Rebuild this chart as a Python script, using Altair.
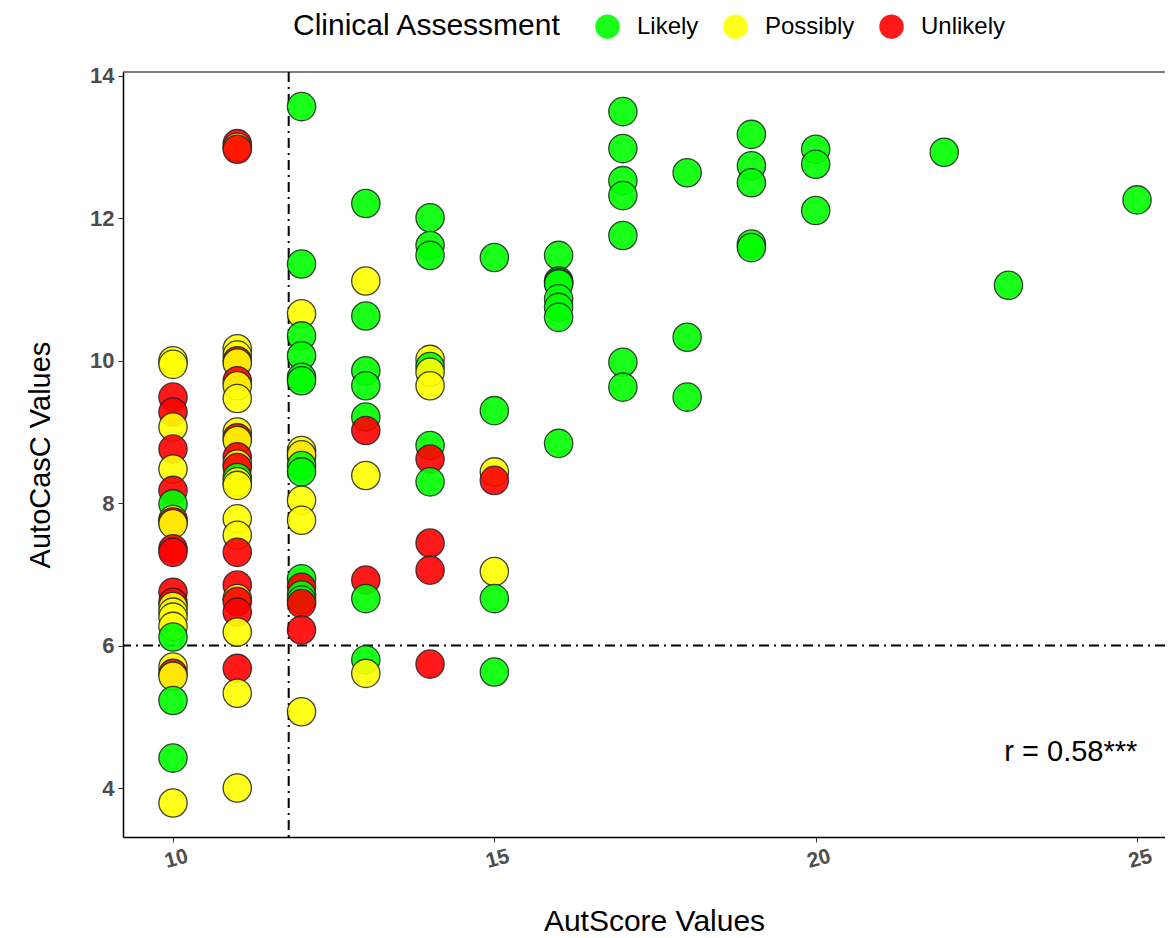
import altair as alt
import pandas as pd

# ---- data ----
x10 = [10.0, 9.95, 9.49, 9.28, 9.07, 8.76, 8.48, 8.18, 7.99, 7.77, 7.74, 7.71, 7.36, 7.31,
       6.75, 6.61, 6.55, 6.47, 6.40, 6.27, 6.12, 5.70, 5.61, 5.57, 5.23, 4.42, 3.79]
c10 = ["P", "P", "U", "U", "P", "U", "P", "U", "L", "P", "U", "P", "U", "U",
       "U", "U", "P", "P", "P", "P", "L", "P", "U", "P", "L", "L", "P"]

x11 = [13.05, 13.0, 12.97, 10.17, 10.08, 10.0, 9.97, 9.72, 9.65, 9.47, 9.0, 8.92, 8.88,
       8.65, 8.55, 8.50, 8.36, 8.30, 8.25, 7.78, 7.55, 7.31, 6.85, 6.66, 6.62, 6.47,
       6.19, 5.68, 5.33, 4.0]
c11 = ["U", "P", "U", "P", "P", "U", "P", "U", "P", "P", "P", "U", "P",
       "U", "P", "U", "L", "P", "P", "P", "P", "U", "U", "P", "U", "U",
       "P", "U", "P", "P"]

x12 = [13.57, 11.36, 10.66, 10.35, 10.07, 9.77, 9.72, 8.74, 8.66, 8.68, 8.53, 8.44, 8.04,
       7.76, 6.94, 6.82, 6.71, 6.64, 6.59, 6.22, 5.07]
c12 = ["L", "L", "P", "L", "L", "L", "L", "P", "U", "P", "L", "L", "P",
       "P", "L", "U", "L", "L", "U", "U", "P"]

x13 = [12.21, 11.12, 10.63, 9.86, 9.65, 9.21, 9.02, 8.39, 6.92, 6.66, 5.80, 5.61]
c13 = ["L", "P", "L", "L", "L", "L", "U", "P", "U", "L", "L", "P"]

x14 = [12.01, 11.62, 11.48, 10.02, 9.92, 9.84, 9.65, 8.81, 8.62, 8.30, 7.44, 7.06, 5.74]
c14 = ["L", "L", "L", "P", "L", "P", "P", "L", "U", "L", "U", "U", "U"]

x15 = [11.45, 9.30, 8.44, 8.32, 7.04, 6.66, 5.63]
c15 = ["L", "L", "P", "U", "P", "L", "L"]

x16 = [11.48, 11.12, 11.10, 11.08, 10.87, 10.75, 10.61, 8.84]
x17 = [13.50, 12.98, 12.53, 12.32, 11.76, 9.98, 9.63]
x18 = [12.64, 10.33, 9.49]
x19 = [13.18, 12.74, 12.50, 11.64, 11.59]
x20 = [12.97, 12.76, 12.11]
x22 = [12.93]
x23 = [11.06]
x25 = [12.26]

labels = {"L": "Likely", "P": "Possibly", "U": "Unlikely"}
categories = ["Likely", "Possibly", "Unlikely"]
colors = ["#00FF00", "#FFFF00", "#FF0000"]

x_ticks = [10, 15, 20, 25]
y_ticks = [4, 6, 8, 10, 12, 14]
vline_x = [11.8]
hline_y = [6]
ann_x = [23.97]
ann_y = [4.51]
ann_text = ["r = 0.58***"]

rows = []
for xv, ys, cs in [(10, x10, c10), (11, x11, c11), (12, x12, c12), (13, x13, c13),
                   (14, x14, c14), (15, x15, c15)]:
    for yv, cv in zip(ys, cs):
        rows.append({"aut": xv, "casc": yv, "cat": labels[cv]})
for xv, ys in [(16, x16), (17, x17), (18, x18), (19, x19), (20, x20),
               (22, x22), (23, x23), (25, x25)]:
    for yv in ys:
        rows.append({"aut": xv, "casc": yv, "cat": "Likely"})
df = pd.DataFrame(rows)

W, H = 1042, 765
XD = [9.222, 25.435]
YD = [3.312, 14.056]
FONT = "Liberation Sans"

xscale = alt.Scale(domain=XD, nice=False, zero=False)
yscale = alt.Scale(domain=YD, nice=False, zero=False)

points = alt.Chart(df).mark_point(
    shape="circle", filled=True, size=800, fillOpacity=0.9,
    stroke="#222222", strokeWidth=1.3, strokeOpacity=0.85
).encode(
    x=alt.X("aut:Q", scale=xscale, axis=alt.Axis(
        title="AutScore Values", values=x_ticks, format="d", grid=False,
        labelAngle=-15, labelAlign="center", labelBaseline="top",
        labelPadding=6, labelFontSize=21, labelFontWeight="bold",
        labelColor="#4D4D4D", tickColor="#333333", tickSize=5,
        domainColor="#000000", domainWidth=1.5,
        titleFontSize=30, titleFontWeight="normal", titleColor="#000000",
        titleX=531, titleAlign="center", titleY=84, titleBaseline="middle")),
    y=alt.Y("casc:Q", scale=yscale, axis=alt.Axis(
        title="AutoCasC Values", values=y_ticks, format="d", grid=False,
        labelPadding=4, labelFontSize=22, labelFontWeight="bold",
        labelColor="#4D4D4D", tickColor="#333333", tickSize=5,
        domainColor="#000000", domainWidth=1.5,
        titleFontSize=29, titleFontWeight="normal", titleColor="#000000",
        titleX=-83, titleBaseline="middle")),
    fill=alt.Fill("cat:N", scale=alt.Scale(domain=categories, range=colors),
                  legend=alt.Legend(
                      title="Clinical Assessment", orient="none",
                      direction="horizontal", titleOrient="left",
                      legendX=170, legendY=-58,
                      titleFontSize=30, titleFontWeight="normal",
                      titleColor="#000000", titlePadding=33, titleLimit=600,
                      labelLimit=300,
                      labelFontSize=24, labelColor="#000000",
                      symbolSize=600, symbolStrokeWidth=0,
                      symbolType="circle", symbolOpacity=0.9,
                      columnPadding=24, labelOffset=17)),
)

vline = alt.Chart(pd.DataFrame({"v": vline_x})).mark_rule(
    color="black", strokeWidth=2, strokeDash=[10, 5, 2, 5]
).encode(x=alt.X("v:Q", scale=xscale))

hline = alt.Chart(pd.DataFrame({"h": hline_y})).mark_rule(
    color="black", strokeWidth=2, strokeDash=[10, 5, 2, 5]
).encode(y=alt.Y("h:Q", scale=yscale))

topline = alt.Chart(pd.DataFrame({"t": [0]})).mark_rule(
    color="#000000", strokeWidth=1.2
).encode(x=alt.value(0), x2=alt.value(W), y=alt.value(0))

ann = alt.Chart(pd.DataFrame({"x": ann_x, "y": ann_y, "t": ann_text})).mark_text(
    fontSize=29, color="#000000", font=FONT, align="center", baseline="middle"
).encode(x=alt.X("x:Q", scale=xscale), y=alt.Y("y:Q", scale=yscale), text="t:N")

chart = alt.layer(vline, hline, points, topline, ann).properties(
    width=W, height=H,
    autosize=alt.AutoSizeParams(type="none"),
    padding={"left": 115, "top": 64, "right": 0, "bottom": 100},
).configure(font=FONT).configure_view(stroke=None)

chart.save("out.html", embed_options={"renderer": "svg", "actions": False})
